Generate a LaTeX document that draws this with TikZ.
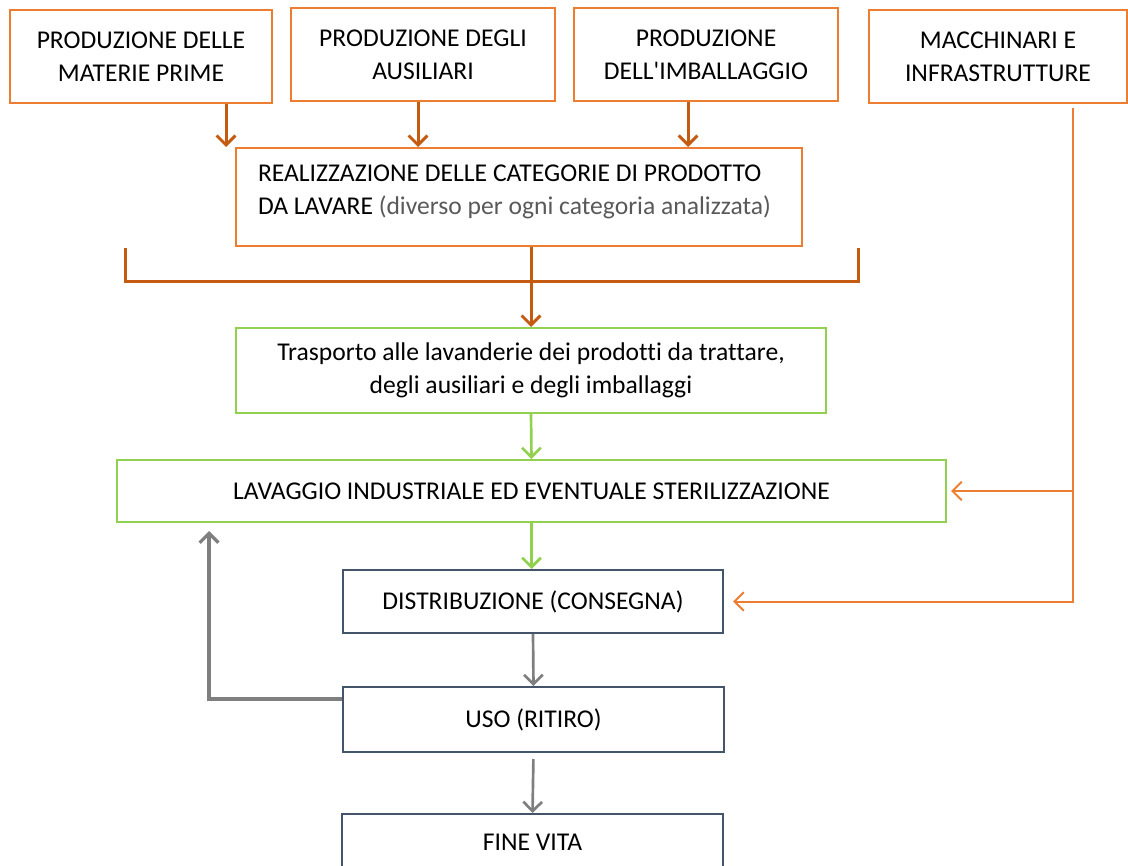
\documentclass[tikz,border=0pt]{standalone}
\usepackage{fontspec}
\setmainfont[Ligatures=NoCommon]{Carlito}
\usetikzlibrary{arrows.meta}
\definecolor{boxorange}{HTML}{ED7D31}
\definecolor{arrorange}{HTML}{C55A11}
\definecolor{boxgreen}{HTML}{92D050}
\definecolor{boxslate}{HTML}{44546A}
\definecolor{arrgray}{HTML}{7F7F7F}
\definecolor{textgray}{HTML}{595959}
\tikzset{
  box/.style={line width=1.5pt, align=center, inner sep=0pt,
    font=\fontsize{19.2}{24.75}\selectfont},
  orangebox/.style={box, draw=boxorange},
  greenbox/.style={box, draw=boxgreen},
  slatebox/.style={box, draw=boxslate},
  brownline/.style={draw=arrorange, line width=2.25pt},
  greenline/.style={draw=boxgreen, line width=2pt},
  grayline/.style={draw=arrgray, line width=2pt},
  machline/.style={draw=boxorange, line width=1.5pt},
}
\begin{document}
\begin{tikzpicture}[x=0.75pt, y=-0.75pt, >={Straight Barb[length=7pt,width=14pt]}]
\useasboundingbox (0,0) rectangle (1128,866);
% top row
\node[orangebox, minimum width=196.5pt, minimum height=69.75pt] (materie) at (141,56.5) {PRODUZIONE DELLE\\MATERIE PRIME};
\node[orangebox, minimum width=198pt, minimum height=69.75pt] (ausiliari) at (423,54.5) {PRODUZIONE DEGLI\\AUSILIARI};
\node[orangebox, minimum width=198pt, minimum height=69.75pt] (imballaggio) at (706,54.5) {PRODUZIONE\\DELL\textquotesingle IMBALLAGGIO};
\node[orangebox, minimum width=193.5pt, minimum height=69.75pt] (macchinari) at (998,56.5) {MACCHINARI E\\INFRASTRUTTURE};
% product categories
\node[orangebox, minimum width=424.5pt, minimum height=73.5pt] (categorie) at (519,197) {};
\node[box, anchor=west, align=left] (categorietxt) at (257,191.5) {REALIZZAZIONE DELLE CATEGORIE DI PRODOTTO\\DA LAVARE {\color{textgray}(diverso per ogni categoria analizzata)}};
% laundry chain
\node[greenbox, minimum width=442.5pt, minimum height=63.75pt] (trasporto) at (531,370.5) {Trasporto alle lavanderie dei prodotti da trattare,\\degli ausiliari e degli imballaggi};
\node[greenbox, minimum width=621.75pt, minimum height=46.5pt] (lavaggio) at (531.5,491) {LAVAGGIO INDUSTRIALE ED EVENTUALE STERILIZZAZIONE};
\node[slatebox, minimum width=285pt, minimum height=47.25pt] (distribuzione) at (533,601.5) {DISTRIBUZIONE (CONSEGNA)};
\node[slatebox, minimum width=285.75pt, minimum height=48.75pt] (uso) at (533.5,719.5) {USO (RITIRO)};
\node[slatebox, minimum width=285.75pt, minimum height=42pt] (fine) at (532.5,842) {FINE VITA};
% inputs
\coordinate (m1) at ([xshift=63.75pt]materie.south);
\coordinate (a1) at ([xshift=-3.75pt]ausiliari.south);
\coordinate (i1) at ([xshift=-13.5pt]imballaggio.south);
\draw[brownline, ->] (m1) -- (m1 |- categorie.north);
\draw[brownline, ->] (a1) -- (a1 |- categorie.north);
\draw[brownline, ->] (i1) -- (i1 |- categorie.north);
\coordinate (brL) at (125,248);
\coordinate (brR) at (858,248);
\draw[brownline] (brL) -- ++(0,34) -| (brR);
\draw[brownline, ->] (categorie.south -| trasporto.north) -- (trasporto.north);
\draw[greenline, ->] (trasporto.south) -- (lavaggio.south |- lavaggio.north);
\draw[greenline, ->] (lavaggio.south) -- (lavaggio.south |- distribuzione.north);
\draw[grayline, ->] (distribuzione.south) -- (uso.north);
\draw[grayline, ->, shorten <=4.5pt] (uso.south) -- (fine.north);
% return loop
\draw[grayline, line width=2.5pt, ->, shorten >=6pt] ([yshift=15.4pt]uso.west) -| ([xshift=69.75pt]lavaggio.south west);
% machinery
\coordinate (mtop) at ([xshift=56.25pt,yshift=-3pt]macchinari.south);
\draw[machline, ->, shorten >=6.75pt] (mtop) |- (distribuzione.east);
\draw[machline, ->, shorten >=3pt] (mtop |- lavaggio.east) -- (lavaggio.east);
\end{tikzpicture}
\end{document}
